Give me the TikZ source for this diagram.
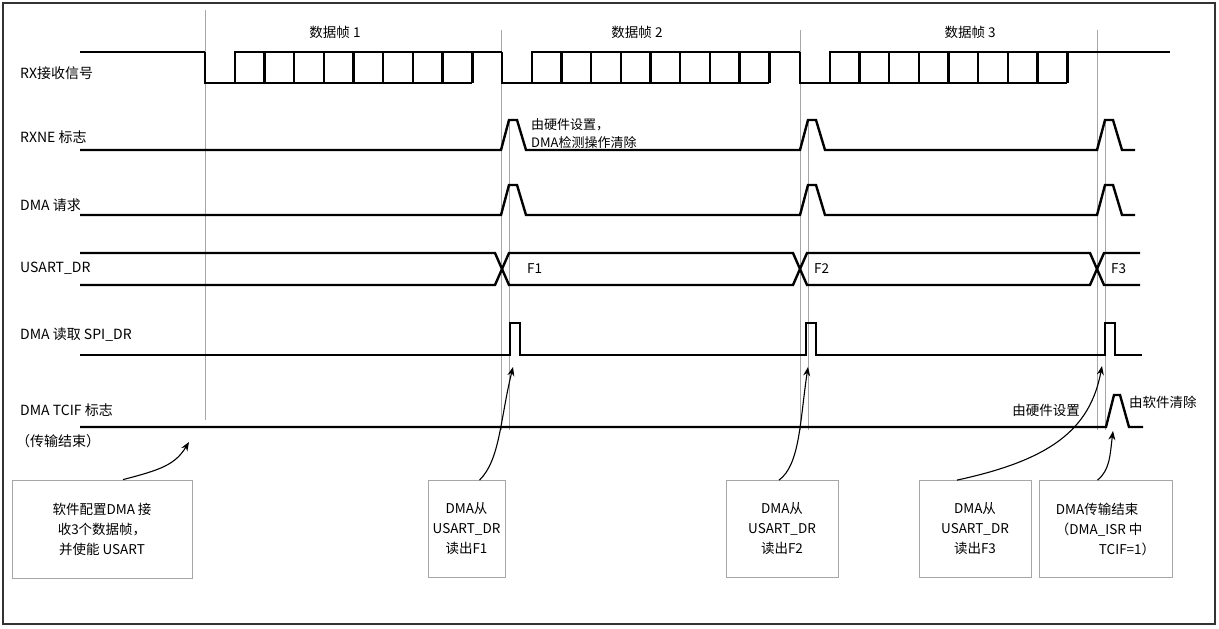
\documentclass[tikz,border=0pt]{standalone}
\usepackage{fontspec}
\setmainfont{Noto Sans CJK SC}
\usetikzlibrary{arrows.meta,calc}
\begin{document}
\begin{tikzpicture}[x=1pt,y=-1pt,
  sig/.style={line width=2.4pt,line join=miter},
  grid/.style={gray!70,line width=0.8pt},
  lbl/.style={anchor=west,inner sep=0pt,font=\fontsize{14}{16}\selectfont},
  note/.style={inner sep=0pt,font=\fontsize{13.5}{16}\selectfont},
  box/.style={draw=gray!70,line width=0.8pt,align=center,font=\fontsize{13.5}{20}\selectfont,inner sep=0pt},
  arr/.style={-{Stealth[length=9pt,width=7pt]},line width=1.1pt}]
\useasboundingbox (0,0) rectangle (1219,629);
\draw[line width=1.2pt,gray!40!black] (3,3) rectangle (1215,624);
% grid lines
\draw[grid] (205,10) -- (205,420);
\foreach \p in {501,800,1097}{
  \draw[grid] (\p,30) -- (\p,430);
  \draw[grid] (\p+8,120) -- (\p+8,430);
}
% labels
\node[lbl] (lrx) at (20,73) {RX接收信号};
\node[lbl] (lrxne) at (20,137) {RXNE 标志};
\node[lbl] (ldmareq) at (20,205) {DMA 请求};
\node[lbl] (lusart) at (20,268) {USART\_DR};
\node[lbl] (lread) at (20,335) {DMA 读取 SPI\_DR};
\node[lbl] (ltcif) at (20,410) {DMA TCIF 标志};
\node[lbl] (ltcif2) at (16,441) {（传输结束）};
\node[note] (f1) at (335,32) {数据帧 1};
\node[note] (f2) at (637,32) {数据帧 2};
\node[note] (f3) at (970,32) {数据帧 3};
% RX signal
\def\b{29.7}
\draw[sig] (80,52) -- (205,52);
\foreach \s/\e in {205/502,502/800,800/1170}{
  \draw[sig] (\s,52) -- (\s,83) -- (\s+\b,83) -- (\s+\b,52) -- (\s+9*\b,52) -- (\e,52);
  \draw[sig] (\s+\b,83) -- (\s+9*\b,83);
  \foreach \k in {2,...,9}{\draw[sig] (\s+\k*\b,52) -- (\s+\k*\b,83);}
}
% RXNE and DMA req
\foreach \base/\top in {150/120,215/185}{
  \draw[sig] (80,\base) -- (501,\base) -- (509,\top) -- (517,\top) -- (526,\base)
    -- (800,\base) -- (808,\top) -- (816,\top) -- (825,\base)
    -- (1097,\base) -- (1105,\top) -- (1113,\top) -- (1122,\base) -- (1135,\base);
}
\node[note,anchor=west,align=left,font=\fontsize{13}{18}\selectfont] (hw1) at (531,134) {由硬件设置，\\DMA检测操作清除};
% USART_DR
\draw[sig] (80,253) -- (495,253) -- (509,285) -- (793,285) -- (807,253) -- (1090,253) -- (1104,285) -- (1140,285);
\draw[sig] (80,285) -- (495,285) -- (509,253) -- (793,253) -- (807,285) -- (1090,285) -- (1104,253) -- (1140,253);
\node[note,anchor=west] (df1) at (527,269) {F1};
\node[note,anchor=west] (df2) at (814,269) {F2};
\node[note,anchor=west] (df3) at (1111,269) {F3};
% DMA read
\draw[sig] (80,355) -- (510,355) -- (510,323) -- (520,323) -- (520,355)
  -- (806,355) -- (806,323) -- (816,323) -- (816,355)
  -- (1105,355) -- (1105,323) -- (1115,323) -- (1115,355) -- (1142,355);
% TCIF
\draw[sig] (80,427) -- (1106,427) -- (1114,395) -- (1120,395) -- (1129,427) -- (1143,427);
\node[note,anchor=east] (hw2) at (1080,410) {由硬件设置};
\node[note,anchor=west] (sw) at (1129,402) {由软件清除};
% boxes
\node[box,minimum width=180pt,minimum height=98pt] (b0) at (102,529) {软件配置DMA 接\\收3个数据帧，\\并使能 USART};
\node[box,minimum width=77pt,minimum height=97pt] (b1) at (466.5,529) {DMA从\\USART\_DR\\读出F1};
\node[box,minimum width=112pt,minimum height=97pt] (b2) at (782,529) {DMA从\\USART\_DR\\读出F2};
\node[box,minimum width=112pt,minimum height=97pt] (b3) at (975,529) {DMA从\\USART\_DR\\读出F3};
\node[box,minimum width=133pt,minimum height=97pt,align=left] (b4) at (1105.5,529) {DMA传输结束\\（DMA\_ISR 中\\\hspace*{3.2em}TCIF=1）};
\coordinate (t0) at (189,442);
\coordinate (t1) at (513,367);
\coordinate (t2) at (808,367);
\coordinate (t3) at (1102,366);
\coordinate (t4) at (1113,431);
\draw[arr] ($(b0.north)+(21,0)$) .. controls (160,470) and (175,465) .. (t0);
\draw[arr] ($(b1.north)+(13,0)$) .. controls (500,460) and (500,420) .. (t1);
\draw[arr] ($(b2.north)+(-3,0)$) .. controls (800,465) and (800,420) .. (t2);
\draw[arr] ($(b3.north)+(-18,0)$) .. controls (1050,460) and (1090,430) .. (t3);
\draw[arr] ($(b4.north)+(-8,0)$) .. controls (1110,470) and (1110,455) .. (t4);
\end{tikzpicture}
\end{document}
